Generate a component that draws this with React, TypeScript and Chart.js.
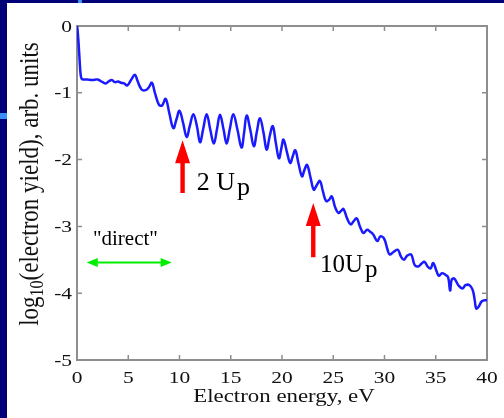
import React, { useEffect, useRef } from "react";
import { Chart, registerables } from "chart.js";

Chart.register(...registerables);

// Spectrum: electron energy (eV) vs log10(electron yield)
const energy = [
  0.0, 0.05, 0.15, 0.25, 0.35, 0.45, 0.6, 1.0, 1.5, 2.0, 2.5, 2.8, 3.1, 3.4, 3.7, 4.0, 4.3, 4.6, 4.9,
  5.3, 5.65, 5.9, 6.3, 6.7, 7.0, 7.3, 7.6, 8.0, 8.3, 8.65, 9.0, 9.4, 9.7, 10.0, 10.35, 10.7, 11.0,
  11.35, 11.7, 12.0, 12.3, 12.65, 13.0, 13.35, 13.65, 13.95, 14.3, 14.6, 14.9, 15.25, 15.65, 16.05,
  16.3, 16.55, 16.9, 17.25, 17.55, 17.85, 18.2, 18.5, 18.8, 19.1, 19.4, 19.7, 19.95, 20.15, 20.5,
  20.8, 21.05, 21.3, 21.6, 21.95, 22.2, 22.45, 22.8, 23.1, 23.4, 23.7, 24.0, 24.3, 24.6, 24.85, 25.2,
  25.5, 25.75, 26.0, 26.35, 26.7, 27.0, 27.3, 27.6, 27.95, 28.3, 28.6, 28.9, 29.3, 29.6, 29.95, 30.3,
  30.5, 30.9, 31.3, 31.6, 31.9, 32.2, 32.6, 32.95, 33.3, 33.6, 33.9, 34.2, 34.5, 34.75, 35.1, 35.3,
  35.6, 35.9, 36.2, 36.4, 36.55, 36.8, 37.2, 37.6, 37.9, 38.3, 38.6, 38.8, 38.95, 39.2, 39.5, 40.0,
];
const logYield = [
  0.0, -0.05, -0.25, -0.5, -0.72, -0.79, -0.8, -0.8, -0.81, -0.8, -0.84, -0.86, -0.83, -0.81, -0.84,
  -0.83, -0.85, -0.86, -0.89, -0.8, -0.73, -0.82, -0.95, -0.96, -0.92, -0.85, -1.0, -1.18, -1.19,
  -1.09, -1.3, -1.53, -1.4, -1.27, -1.45, -1.66, -1.5, -1.32, -1.5, -1.74, -1.55, -1.32, -1.55,
  -1.76, -1.55, -1.33, -1.55, -1.76, -1.55, -1.32, -1.55, -1.82, -1.6, -1.34, -1.55, -1.8, -1.58,
  -1.38, -1.6, -1.85, -1.65, -1.5, -1.75, -1.98, -1.82, -1.7, -1.9, -2.05, -1.95, -1.86, -2.05,
  -2.25, -2.15, -2.08, -2.28, -2.45, -2.38, -2.32, -2.48, -2.62, -2.6, -2.55, -2.72, -2.8, -2.77,
  -2.74, -2.88, -2.97, -2.92, -2.88, -3.0, -3.1, -3.05, -3.08, -3.12, -3.22, -3.15, -3.18, -3.35,
  -3.42, -3.38, -3.35, -3.45, -3.5, -3.44, -3.42, -3.58, -3.6, -3.56, -3.53, -3.6, -3.63, -3.55,
  -3.68, -3.74, -3.7, -3.72, -3.76, -3.96, -3.8, -3.78, -3.88, -3.93, -3.88, -3.88, -3.95, -4.1,
  -4.23, -4.2, -4.12, -4.1,
];

const xTickValues = [0, 5, 10, 15, 20, 25, 30, 35, 40];
const xTickLabels = ["0", "5", "10", "15", "20", "25", "30", "35", "40"];
const yTickValues = [0, -1, -2, -3, -4, -5];
const yTickLabels = ["0", "-1", "-2", "-3", "-4", "-5"];

const xTitle = "Electron energy, eV";
const yTitleParts = ["log", "10", "(electron yield), arb. units"];

// Red arrows (energy, tip, tail) and labels
const arrowEnergy = [10.3, 23.05];
const arrowTip = [-1.71, -2.65];
const arrowTail = [-2.5, -3.46];
const arrowLabelMain = ["2 U", "10U"];
const arrowLabelSub = ["p", "p"];
const arrowLabelEnergy = [11.68, 23.7];
const arrowLabelLevel = [-2.45, -3.68];
const arrowLabelSize = [26, 25];

// "direct" region
const directText = '"direct"';
const directTextEnergy = 4.72;
const directTextLevel = -3.28;
const directFrom = 0.95;
const directTo = 9.24;
const directLevel = -3.54;

const SERIF = '"Liberation Serif", "Times New Roman", serif';
const STRETCH = 1.3;

const decorPlugin = {
  id: "decor",
  beforeDatasetsDraw(chart: any) {
    const { ctx, chartArea: a, scales } = chart;
    const xs = scales.x;
    const ys = scales.y;
    ctx.save();
    ctx.strokeStyle = "#8e8e8e";
    ctx.lineWidth = 2;
    ctx.strokeRect(a.left, a.top, a.right - a.left, a.bottom - a.top);
    ctx.lineWidth = 1.5;
    ctx.beginPath();
    xs.ticks.forEach((t: any) => {
      const px = xs.getPixelForValue(t.value);
      ctx.moveTo(px, a.bottom);
      ctx.lineTo(px, a.bottom - 5);
      ctx.moveTo(px, a.top);
      ctx.lineTo(px, a.top + 5);
    });
    ys.ticks.forEach((t: any) => {
      const py = ys.getPixelForValue(t.value);
      ctx.moveTo(a.left, py);
      ctx.lineTo(a.left + 5, py);
      ctx.moveTo(a.right, py);
      ctx.lineTo(a.right - 5, py);
    });
    ctx.stroke();

    // tick labels (stretched horizontally like the reference)
    ctx.fillStyle = "#111";
    ctx.font = `16.5px ${SERIF}`;
    ctx.textBaseline = "alphabetic";
    xs.ticks.forEach((t: any, i: number) => {
      const px = xs.getPixelForValue(t.value);
      ctx.save();
      ctx.translate(px, a.bottom + 23);
      ctx.scale(STRETCH, 1);
      ctx.textAlign = "center";
      ctx.fillText(xTickLabels[i], 0, 0);
      ctx.restore();
    });
    ys.ticks.forEach((t: any, i: number) => {
      const py = ys.getPixelForValue(t.value);
      ctx.save();
      ctx.translate(a.left - 5, py + 5.5);
      ctx.scale(STRETCH, 1);
      ctx.textAlign = "right";
      ctx.fillText(yTickLabels[i], 0, 0);
      ctx.restore();
    });

    // x title
    ctx.save();
    ctx.font = `18px ${SERIF}`;
    ctx.translate((a.left + a.right) / 2 + 2, a.bottom + 42);
    ctx.scale(1.27, 1);
    ctx.textAlign = "center";
    ctx.fillText(xTitle, 0, 0);
    ctx.restore();

    // y title with subscript
    ctx.save();
    const fs = 23;
    const subFs = 16;
    ctx.translate(38, (a.top + a.bottom) / 2 - 9);
    ctx.rotate(-Math.PI / 2);
    ctx.scale(1, 1.15);
    ctx.font = `${fs}px ${SERIF}`;
    const w0 = ctx.measureText(yTitleParts[0]).width;
    const w2 = ctx.measureText(yTitleParts[2]).width;
    ctx.font = `${subFs}px ${SERIF}`;
    const w1 = ctx.measureText(yTitleParts[1]).width;
    const total = w0 + w1 + w2;
    let cx = -total / 2;
    ctx.textAlign = "left";
    ctx.font = `${fs}px ${SERIF}`;
    ctx.fillText(yTitleParts[0], cx, 0);
    cx += w0;
    ctx.font = `${subFs}px ${SERIF}`;
    ctx.fillText(yTitleParts[1], cx, 4);
    cx += w1;
    ctx.font = `${fs}px ${SERIF}`;
    ctx.fillText(yTitleParts[2], cx, 0);
    ctx.restore();
    ctx.restore();
  },
  afterDraw(chart: any) {
    const { ctx, scales } = chart;
    const xs = scales.x;
    const ys = scales.y;
    ctx.save();
    // red arrows
    ctx.fillStyle = "#ff0000";
    arrowEnergy.forEach((e, i) => {
      const px = xs.getPixelForValue(e);
      const tip = ys.getPixelForValue(arrowTip[i]);
      const tail = ys.getPixelForValue(arrowTail[i]);
      const headLen = 23;
      const headHalf = 7.5;
      const shaftHalf = 2.2;
      ctx.beginPath();
      ctx.moveTo(px, tip);
      ctx.lineTo(px + headHalf, tip + headLen);
      ctx.lineTo(px + shaftHalf, tip + headLen);
      ctx.lineTo(px + shaftHalf, tail);
      ctx.lineTo(px - shaftHalf, tail);
      ctx.lineTo(px - shaftHalf, tip + headLen);
      ctx.lineTo(px - headHalf, tip + headLen);
      ctx.closePath();
      ctx.fill();
    });
    // arrow labels
    ctx.fillStyle = "#000";
    ctx.textAlign = "left";
    ctx.textBaseline = "alphabetic";
    arrowLabelMain.forEach((lab, i) => {
      const px = xs.getPixelForValue(arrowLabelEnergy[i]);
      const py = ys.getPixelForValue(arrowLabelLevel[i]);
      ctx.font = `${arrowLabelSize[i]}px ${SERIF}`;
      ctx.fillText(lab, px, py);
      const w = ctx.measureText(lab).width;
      ctx.fillText(arrowLabelSub[i], px + w + 2, py + 5);
    });
    // direct label
    ctx.font = `21px ${SERIF}`;
    ctx.textAlign = "center";
    ctx.fillText(
      directText,
      xs.getPixelForValue(directTextEnergy),
      ys.getPixelForValue(directTextLevel)
    );
    // green double arrow
    const gx1 = xs.getPixelForValue(directFrom);
    const gx2 = xs.getPixelForValue(directTo);
    const gy = ys.getPixelForValue(directLevel);
    ctx.strokeStyle = "#00ee00";
    ctx.fillStyle = "#00ee00";
    ctx.lineWidth = 2;
    ctx.beginPath();
    ctx.moveTo(gx1 + 8, gy);
    ctx.lineTo(gx2 - 8, gy);
    ctx.stroke();
    ctx.beginPath();
    ctx.moveTo(gx1, gy);
    ctx.lineTo(gx1 + 11, gy - 4.5);
    ctx.lineTo(gx1 + 11, gy + 4.5);
    ctx.closePath();
    ctx.fill();
    ctx.beginPath();
    ctx.moveTo(gx2, gy);
    ctx.lineTo(gx2 - 11, gy - 4.5);
    ctx.lineTo(gx2 - 11, gy + 4.5);
    ctx.closePath();
    ctx.fill();
    ctx.restore();
  },
};

export default function App() {
  const ref = useRef<HTMLCanvasElement | null>(null);
  useEffect(() => {
    if (!ref.current) return;
    const chart = new Chart(ref.current, {
      type: "line",
      data: {
        datasets: [
          {
            data: energy.map((e, i) => ({ x: e, y: logYield[i] })),
            borderColor: "#1a1aff",
            borderWidth: 2.5,
            pointRadius: 0,
            tension: 0.4,
            fill: false,
          },
        ],
      },
      options: {
        animation: false,
        responsive: false,
        devicePixelRatio: 1,
        layout: { padding: { left: 0, top: 26, right: 17, bottom: 0 } },
        plugins: { legend: { display: false }, tooltip: { enabled: false } },
        scales: {
          x: {
            type: "linear",
            min: 0,
            max: 40,
            afterBuildTicks: (s: any) => {
              s.ticks = xTickValues.map((v) => ({ value: v }));
            },
            afterFit: (s: any) => {
              s.height = 58;
            },
            ticks: { display: false },
            grid: { display: false },
            border: { display: false },
          },
          y: {
            type: "linear",
            min: -5,
            max: 0,
            afterBuildTicks: (s: any) => {
              s.ticks = yTickValues.map((v) => ({ value: v }));
            },
            afterFit: (s: any) => {
              s.width = 77;
            },
            ticks: { display: false },
            grid: { display: false },
            border: { display: false },
          },
        },
      },
      plugins: [decorPlugin],
    });
    return () => chart.destroy();
  }, []);

  return (
    <div
      style={{
        position: "fixed",
        left: 0,
        top: 0,
        width: 504,
        height: 418,
        background: "#000078",
        overflow: "hidden",
      }}
    >
      <div style={{ position: "absolute", left: 78, top: 0, width: 4, height: 3, background: "#3b8ef5" }} />
      <div style={{ position: "absolute", left: 0, top: 113, width: 7, height: 6, background: "#3b8ef5" }} />
      <div style={{ position: "absolute", left: 7, top: 3, width: 497, height: 415, background: "#fff" }} />
      <canvas
        ref={ref}
        width={504}
        height={418}
        style={{ position: "absolute", left: 0, top: 0, width: 504, height: 418 }}
      />
    </div>
  );
}
